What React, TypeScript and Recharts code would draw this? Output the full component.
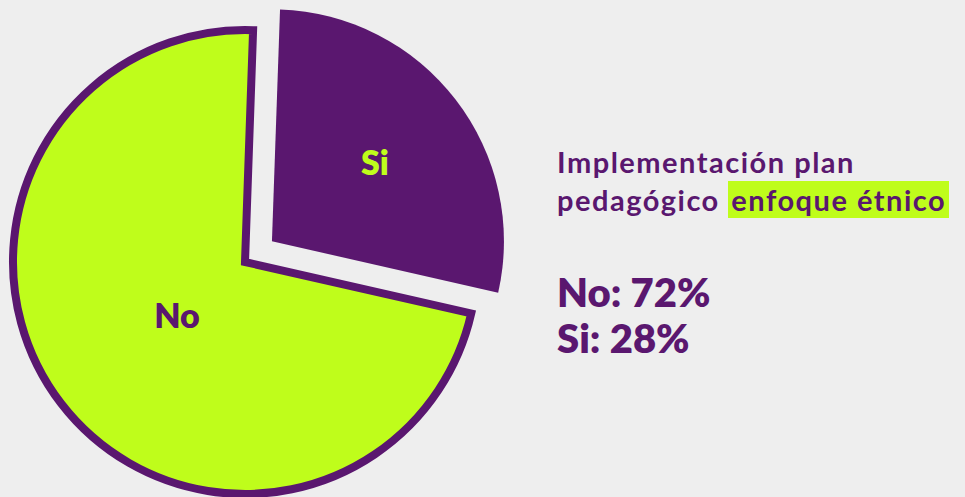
import { PieChart, Pie, Cell, Sector } from "recharts";

const categories = ["No", "Si"];
const values = [72, 28];
const sliceColors = ["#bffd1b", "#5a176f"];
const labelColors = ["#5a176f", "#bffd1b"];
const titleLines = ["Implementación plan", "pedagógico", "enfoque étnico"];

const data = categories.map((name, i) => ({ name, value: values[i] }));

const PURPLE = "#5a176f";
const LIME = "#bffd1b";
const EXPLODE: Record<string, number> = { Si: 34 };
const LABEL_R: Record<string, number> = { No: 0.37, Si: 0.56 };
const RAD = Math.PI / 180;

const renderSlice = (props: any) => {
  const off = EXPLODE[props.name] || 0;
  const a = -props.midAngle * RAD;
  return (
    <Sector
      cx={props.cx + off * Math.cos(a)}
      cy={props.cy + off * Math.sin(a)}
      innerRadius={props.innerRadius}
      outerRadius={props.outerRadius}
      startAngle={props.startAngle}
      endAngle={props.endAngle}
      fill={props.fill}
      stroke={props.stroke}
      strokeWidth={props.strokeWidth}
      strokeLinejoin="miter"
    />
  );
};

const renderLabel = (props: any) => {
  const off = EXPLODE[props.name] || 0;
  const a = -props.midAngle * RAD;
  const r = off + props.outerRadius * (LABEL_R[props.name] || 0.5);
  const x = props.cx + r * Math.cos(a);
  const y = props.cy + r * Math.sin(a);
  return (
    <text
      x={x}
      y={y}
      fill={labelColors[props.index]}
      textAnchor="middle"
      dominantBaseline="central"
      fontSize={34}
      fontWeight={800}
      fontFamily="Lato, sans-serif"
    >
      {props.name}
    </text>
  );
};

const App = () => {
  return (
    <div
      style={{
        position: "absolute",
        left: 0,
        top: 0,
        width: 965,
        height: 497,
        background: "#eeeeee",
        overflow: "hidden",
        fontFamily: "Lato, sans-serif",
      }}
    >
      <PieChart width={965} height={497} margin={{ top: 0, right: 0, bottom: 0, left: 0 }}>
        <Pie
          data={data}
          dataKey="value"
          nameKey="name"
          cx={245}
          cy={262}
          outerRadius={232}
          startAngle={88}
          endAngle={448}
          shape={renderSlice}
          label={renderLabel}
          labelLine={false}
          isAnimationActive={false}
        >
          {data.map((d, i) => (
            <Cell
              key={d.name}
              fill={sliceColors[i]}
              stroke={i === 0 ? PURPLE : "none"}
              strokeWidth={i === 0 ? 8 : 0}
            />
          ))}
        </Pie>
      </PieChart>
      <div
        style={{
          position: "absolute",
          left: 557,
          top: 143,
          color: PURPLE,
          fontSize: 29,
          fontWeight: 700,
          letterSpacing: 1.5,
          lineHeight: "38px",
          whiteSpace: "nowrap",
        }}
      >
        <div>{titleLines[0]}</div>
        <div>
          {titleLines[1]}{" "}
          <span style={{ background: LIME, padding: "0 3px", display: "inline-block", lineHeight: "37px" }}>
            {titleLines[2]}
          </span>
        </div>
      </div>
      <div
        style={{
          position: "absolute",
          left: 557,
          top: 269,
          color: PURPLE,
          fontSize: 40,
          fontWeight: 800,
          lineHeight: "46px",
          whiteSpace: "nowrap",
        }}
      >
        {data.map((d) => (
          <div key={d.name}>
            {d.name}: {d.value}%
          </div>
        ))}
      </div>
    </div>
  );
};

export default App;
